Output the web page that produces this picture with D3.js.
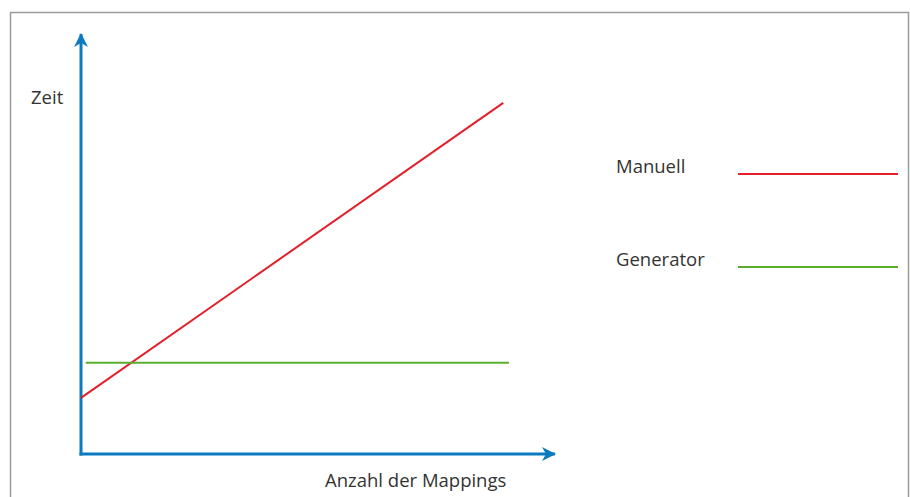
<!DOCTYPE html>
<html><head><meta charset="utf-8">
<script src="https://cdn.jsdelivr.net/npm/d3@7"></script>
<style>body{margin:0;background:#fff}svg{display:block}text{font-family:"Open Sans",sans-serif;fill:#333}</style>
</head><body><svg id="c" width="910" height="497"></svg>
<script>
const seriesNames = ["Manuell", "Generator"];
const manuellX = [0, 88.7];
const manuellY = [13.3, 83.2];
const generatorX = [1, 89.9];
const generatorY = [21.6, 21.6];
const colors = ["#e3202a", "#5aae2e"];
const axisLabels = ["Zeit", "Anzahl der Mappings"];

const svg = d3.select("#c");
const x = d3.scaleLinear().domain([0, 100]).range([81, 557]);
const y = d3.scaleLinear().domain([0, 100]).range([454, 32]);

svg.append("rect").attr("x", 10.5).attr("y", 12.5).attr("width", 898).attr("height", 500)
  .attr("fill", "none").attr("stroke", "#9a9a9a").attr("stroke-width", 1.5);

const defs = svg.append("defs");
defs.append("marker").attr("id", "arr").attr("viewBox", "0 0 14 14").attr("refX", 13).attr("refY", 7)
  .attr("markerWidth", 14).attr("markerHeight", 14).attr("markerUnits", "userSpaceOnUse").attr("orient", "auto")
  .append("path").attr("d", "M0,0 L14,7 L0,14 L4,7 Z").attr("fill", "#0a7bbf");

const blue = "#0a7bbf";
svg.append("path").attr("d", `M${x(0)},${y(0)+1.5} L${x(0)},${y(100)+2}`).attr("stroke", blue).attr("stroke-width", 3)
  .attr("fill", "none").attr("marker-end", "url(#arr)");
svg.append("path").attr("d", `M${x(0)-1.5},${y(0)} L${x(100)-2},${y(0)}`).attr("stroke", blue).attr("stroke-width", 3)
  .attr("fill", "none").attr("marker-end", "url(#arr)");

const line = d3.line().x(d => x(d[0])).y(d => y(d[1]));
const series = [d3.zip(manuellX, manuellY), d3.zip(generatorX, generatorY)];
series.forEach((s, i) => {
  svg.append("path").attr("d", line(s)).attr("stroke", colors[i]).attr("stroke-width", 2).attr("fill", "none");
});

const fs = 18.5;
svg.append("text").attr("x", 31).attr("y", 104).attr("font-size", fs).text(axisLabels[0]);
svg.append("text").attr("x", 325).attr("y", 487).attr("font-size", fs).text(axisLabels[1]);

const legY = [174, 267];
seriesNames.forEach((n, i) => {
  svg.append("text").attr("x", 616).attr("y", legY[i] - 1).attr("font-size", fs).text(n);
  svg.append("line").attr("x1", 738).attr("x2", 898).attr("y1", legY[i]).attr("y2", legY[i])
    .attr("stroke", colors[i]).attr("stroke-width", 2);
});
</script></body></html>
